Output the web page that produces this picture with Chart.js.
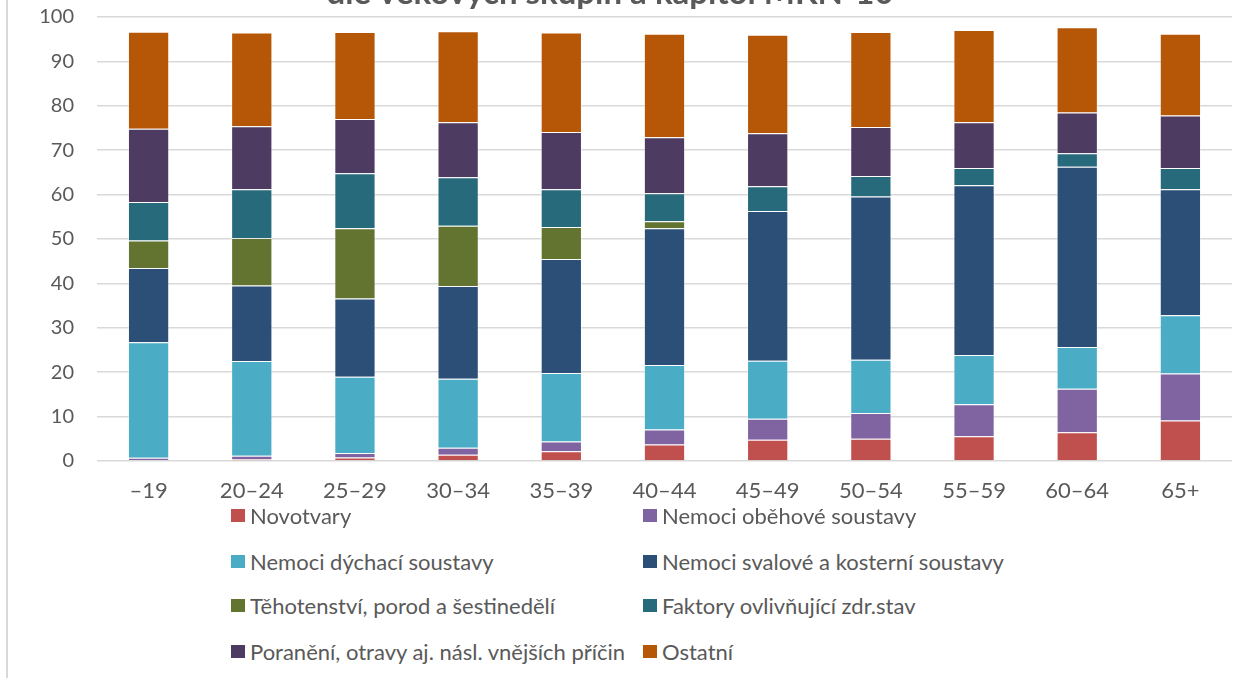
<!DOCTYPE html>
<html>
<head>
<meta charset="utf-8">
<script src="https://cdn.jsdelivr.net/npm/chart.js@4/dist/chart.umd.min.js"></script>
<style>
  html, body { margin: 0; padding: 0; background: #fff; }
  #wrap { position: relative; width: 1253px; height: 678px; overflow: hidden; font-family: Lato, sans-serif; }
  #frame { position: absolute; left: 6px; top: 0; width: 2px; height: 678px; background: #d9d9d9; }
  #chartBox { position: absolute; left: 0; top: -18px; width: 1253px; height: 528px; }
  .lg { position: absolute; display: flex; align-items: center; color: #595959; font-size: 22px; white-space: nowrap; }
  .lg span.box { display: inline-block; width: 14px; height: 13px; margin-right: 5px; }
</style>
</head>
<body>
<div id="wrap">
  <div id="frame"></div>
  <div id="chartBox"><canvas id="ageChart"></canvas></div>
  <div id="legend"></div>
</div>
<script>
const ageGroups = ['\u201319', '20\u201324', '25\u201329', '30\u201334', '35\u201339', '40\u201344', '45\u201349', '50\u201354', '55\u201359', '60\u201364', '65+'];

const novotvary   = [0.2, 0.4, 0.8, 1.4, 2.2, 3.7, 4.8, 5.0, 5.6, 6.5, 9.1];
const obehove     = [0.55, 0.8, 1.0, 1.6, 2.2, 3.4, 4.7, 5.8, 7.2, 9.8, 10.6];
const dychaci     = [26.0, 21.3, 17.2, 15.5, 15.4, 14.5, 13.1, 12.0, 11.1, 9.4, 13.1];
const svalove     = [16.7, 17.0, 17.6, 20.9, 25.7, 30.8, 33.7, 36.8, 38.2, 40.6, 28.4];
const tehotenstvi = [6.2, 10.7, 15.8, 13.6, 7.2, 1.6, 0, 0, 0, 0, 0];
const faktory     = [8.7, 11.0, 12.4, 10.9, 8.5, 6.3, 5.6, 4.6, 3.9, 3.0, 4.8];
const poraneni    = [16.5, 14.2, 12.2, 12.4, 12.9, 12.6, 11.9, 11.0, 10.3, 9.2, 11.8];
const ostatni     = [21.8, 21.1, 19.6, 20.5, 22.4, 23.3, 22.2, 21.4, 20.8, 19.2, 18.4];

const yTicks = [0, 10, 20, 30, 40, 50, 60, 70, 80, 90, 100];

const seriesNames = [
    'Novotvary', 'Nemoci oběhové soustavy',
    'Nemoci dýchací soustavy', 'Nemoci svalové a kosterní soustavy',
    'Těhotenství, porod a šestinedělí', 'Faktory ovlivňující zdr.stav',
    'Poranění, otravy aj. násl. vnějších příčin', 'Ostatní'
];
const seriesValues = [novotvary, obehove, dychaci, svalove, tehotenstvi, faktory, poraneni, ostatni];
const seriesColors = ['#C0504D', '#8064A2', '#4BACC6', '#2C4F77', '#627430', '#276A7C', '#4D3B62', '#B65708'];

const titleText = 'dle věkových skupin a kapitol MKN-10';

// title sits mostly above the visible picture, only its lower half shows
const cutTitle = {
    id: 'cutTitle',
    afterDraw(chart) {
        const c = chart.ctx;
        c.save();
        c.font = 'bold 33px Lato';
        c.fillStyle = '#595959';
        c.textAlign = 'center';
        c.textBaseline = 'alphabetic';
        c.fillText(titleText, 610, 22);
        c.restore();
    }
};

const ctx = document.getElementById('ageChart').getContext('2d');

const ageChart = new Chart(ctx, {
    type: 'bar',
    data: {
        labels: ageGroups,
        datasets: seriesNames.map((name, i) => ({
            label: name,
            data: seriesValues[i],
            backgroundColor: seriesColors[i],
            borderColor: 'rgba(255,255,255,0.35)',
            borderWidth: 1,
            barPercentage: 0.4,
            categoryPercentage: 1
        }))
    },
    options: {
        responsive: true,
        maintainAspectRatio: false,
        animation: false,
        layout: {
            padding: { top: 0, right: 21, bottom: 0, left: 0 }
        },
        plugins: {
            legend: { display: false },
            title: { display: false },
            tooltip: { enabled: false }
        },
        scales: {
            x: {
                stacked: true,
                grid: { display: false, drawTicks: false },
                border: { display: false },
                ticks: {
                    color: '#595959',
                    padding: 17,
                    font: { family: 'Lato', size: 22 }
                },
                afterFit: (s) => { s.height = 49; }
            },
            y: {
                stacked: true,
                min: 0,
                max: 100,
                afterBuildTicks: (s) => { s.ticks = yTicks.map(v => ({ value: v })); },
                grid: { color: '#d9d9d9', lineWidth: 1.5, drawTicks: false },
                border: { display: false },
                ticks: {
                    color: '#595959',
                    padding: 23,
                    font: { family: 'Lato', size: 20 }
                },
                afterFit: (s) => { s.width = 97; }
            }
        }
    },
    plugins: [cutTitle]
});

// legend in two columns, like the original
const legendBox = document.getElementById('legend');
const rowY = [515, 561, 605, 651];
const colX = [231, 643];
seriesNames.forEach((name, i) => {
    const item = document.createElement('div');
    item.className = 'lg';
    item.style.left = colX[i % 2] + 'px';
    item.style.top = (rowY[Math.floor(i / 2)] - 13) + 'px';
    item.style.height = '26px';
    item.innerHTML = '<span class="box" style="background:' + seriesColors[i] + '"></span>' + name;
    legendBox.appendChild(item);
});
</script>
</body>
</html>
